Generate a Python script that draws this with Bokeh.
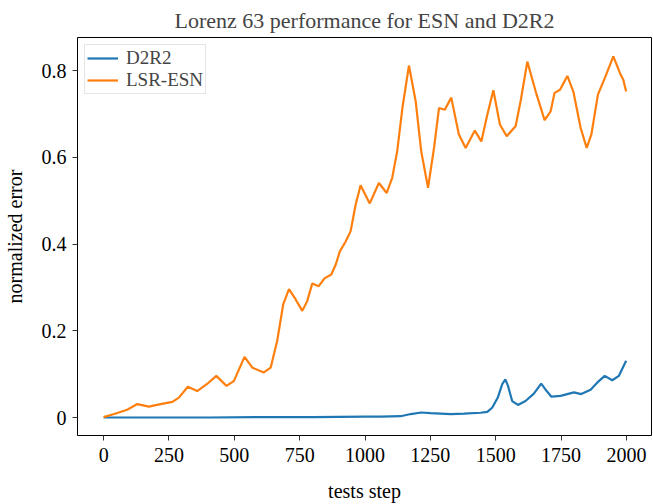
from bokeh.plotting import figure
from bokeh.models import Range1d, FixedTicker, Legend, LegendItem
from bokeh.embed import file_html
from bokeh.resources import INLINE

# ---- data ----
esn_x = [0, 40, 90, 129, 173, 218, 263, 288, 322, 358, 397, 431, 470, 498, 539, 569, 613, 639,
         664, 687, 709, 734, 760, 779, 798, 823, 845, 871, 888, 904, 925, 945, 964, 983, 1018,
         1053, 1083, 1104, 1123, 1143, 1168, 1194, 1215, 1241, 1264, 1283, 1305, 1330, 1359,
         1385, 1420, 1445, 1468, 1491, 1516, 1542, 1576, 1595, 1621, 1653, 1687, 1710, 1725,
         1746, 1774, 1797, 1825, 1848, 1866, 1891, 1920, 1950, 1975, 1988, 1999]
esn_y = [0.001, 0.008, 0.018, 0.031, 0.025, 0.031, 0.036, 0.046, 0.071, 0.061, 0.078, 0.096,
         0.073, 0.084, 0.140, 0.115, 0.104, 0.115, 0.177, 0.261, 0.296, 0.273, 0.246, 0.269,
         0.309, 0.303, 0.321, 0.330, 0.353, 0.384, 0.405, 0.430, 0.491, 0.536, 0.494, 0.541,
         0.518, 0.553, 0.614, 0.714, 0.812, 0.729, 0.614, 0.530, 0.622, 0.714, 0.710, 0.738,
         0.653, 0.622, 0.662, 0.637, 0.699, 0.755, 0.676, 0.649, 0.672, 0.729, 0.821, 0.752,
         0.686, 0.706, 0.749, 0.756, 0.788, 0.752, 0.668, 0.622, 0.653, 0.745, 0.787, 0.833,
         0.795, 0.779, 0.752]

d2r2_x = [0, 200, 400, 600, 800, 1000, 1060, 1136, 1175, 1215, 1251, 1328, 1379, 1442, 1468,
          1487, 1508, 1525, 1537, 1547, 1563, 1585, 1614, 1646, 1674, 1695, 1713, 1748, 1799,
          1827, 1863, 1889, 1917, 1946, 1971, 1999]
d2r2_y = [0.000, 0.000, 0.000, 0.001, 0.001, 0.002, 0.002, 0.003, 0.008, 0.0115, 0.010, 0.008,
          0.009, 0.011, 0.013, 0.023, 0.046, 0.077, 0.088, 0.073, 0.038, 0.029, 0.038, 0.055,
          0.078, 0.061, 0.048, 0.050, 0.058, 0.054, 0.064, 0.081, 0.096, 0.086, 0.096, 0.131]

x_ticks = [0, 250, 500, 750, 1000, 1250, 1500, 1750, 2000]
y_ticks = [0, 0.2, 0.4, 0.6, 0.8]
y_tick_labels = {0: "0", 0.2: "0.2", 0.4: "0.4", 0.6: "0.6", 0.8: "0.8"}

title_text = "Lorenz 63 performance for ESN and D2R2"
x_label = "tests step"
y_label = "normalized error"
series_names = ["D2R2", "LSR-ESN"]
colors = ["#1f77b4", "#ff7f0e"]

FONT = "Liberation Serif"

p = figure(width=653, height=504, output_backend="svg", toolbar_location=None,
           x_range=Range1d(-100, 2096), y_range=Range1d(-0.0415, 0.8767),
           min_border_left=76, min_border_right=2, min_border_top=36, min_border_bottom=69)

p.title.text = title_text
p.title.text_font = FONT
p.title.text_font_size = "22px"
p.title.text_font_style = "normal"
p.title.align = "center"
p.title.standoff = 10

p.outline_line_color = "black"
p.outline_line_width = 1
p.outline_line_alpha = 1
p.grid.visible = False
p.background_fill_color = "white"
p.border_fill_color = "white"

for ax in (p.xaxis[0], p.yaxis[0]):
    ax.axis_line_color = None
    ax.major_tick_out = 5
    ax.major_tick_in = 0
    ax.minor_tick_line_color = None
    ax.major_tick_line_color = "#333333"
    ax.major_label_text_font = FONT
    ax.major_label_text_font_size = "20px"
    ax.major_label_text_color = "black"
    ax.axis_label_text_font = FONT
    ax.axis_label_text_font_size = "20px"
    ax.axis_label_text_font_style = "normal"
    ax.axis_label_text_color = "black"

p.xaxis.ticker = FixedTicker(ticks=x_ticks)
p.yaxis.ticker = FixedTicker(ticks=y_ticks)
p.yaxis.major_label_overrides = y_tick_labels
p.xaxis.axis_label = x_label
p.yaxis.axis_label = y_label
p.xaxis.major_label_standoff = 7
p.xaxis.axis_label_standoff = 15
p.yaxis.major_label_standoff = 6
p.yaxis.axis_label_standoff = 13

r1 = p.line(d2r2_x, d2r2_y, line_color=colors[0], line_width=2.2)
r2 = p.line(esn_x, esn_y, line_color=colors[1], line_width=2.2)

legend = Legend(items=[LegendItem(label=series_names[0], renderers=[r1]),
                       LegendItem(label=series_names[1], renderers=[r2])],
                location="top_left")
legend.margin = 7
legend.padding = 2
legend.spacing = 0
legend.label_text_font = FONT
legend.label_text_font_size = "19px"
legend.label_height = 22
legend.glyph_height = 22
legend.glyph_width = 31
legend.label_standoff = 8
legend.border_line_color = "#cccccc"
legend.border_line_width = 1
legend.background_fill_alpha = 0.8
p.add_layout(legend)

open("out.html", "w").write(file_html(p, INLINE))
